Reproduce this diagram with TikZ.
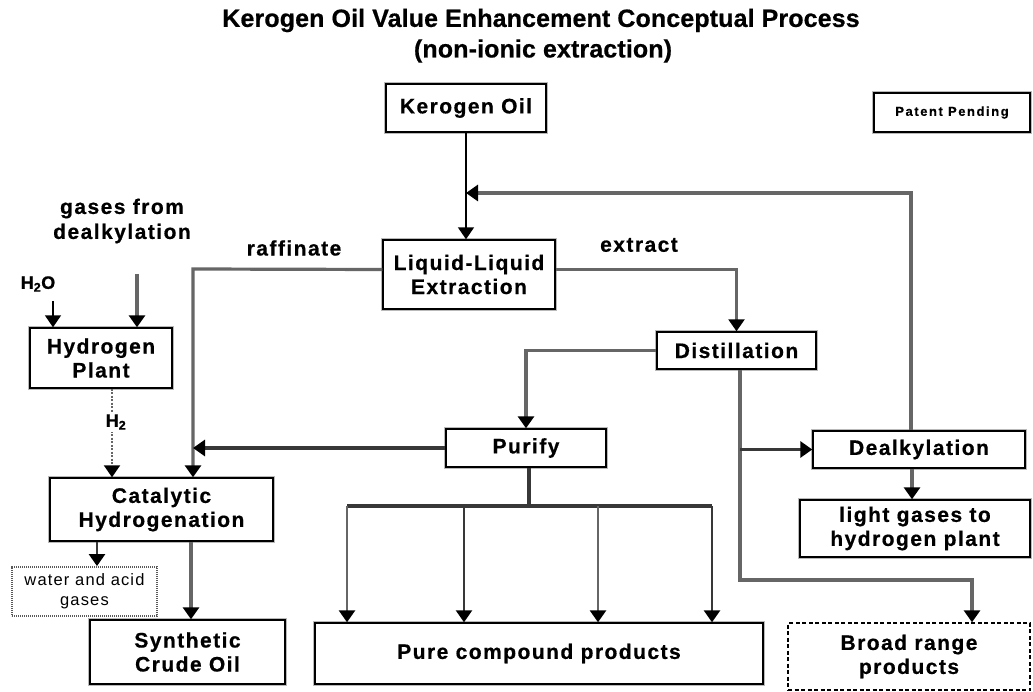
\documentclass[tikz,border=0pt]{standalone}
\usepackage{fontspec}
\setmainfont{Liberation Sans}
\newfontfamily\labfont[LetterSpace=7, BoldFeatures={FakeBold=0.6}]{Liberation Sans}
\newfontfamily\titlefont[LetterSpace=0.5, BoldFeatures={FakeBold=0.6}]{Liberation Sans}
\newfontfamily\smallfont[LetterSpace=12, BoldFeatures={FakeBold=0.5}]{Liberation Sans}
\usetikzlibrary{arrows.meta}
\definecolor{lnA}{gray}{0.22}
\definecolor{lnB}{gray}{0.40}
\begin{document}
\begin{tikzpicture}[x=1pt,y=-1pt,
  boxbase/.style={fill=white, inner sep=0pt, align=center,
    font=\labfont\bfseries\fontsize{21}{24}\selectfont},
  box/.style={boxbase, draw=black, line width=1.4pt,
    preaction={draw=gray!55, line width=4pt}},
  dashbox/.style={boxbase, draw=black, line width=1.4pt, dash pattern=on 4pt off 2.5pt},
  dotbox/.style={boxbase, draw=gray!70!black, line width=1.8pt, dash pattern=on 1.2pt off 0.8pt,
    font=\labfont\fontsize{16.5}{20}\selectfont},
  lab/.style={inner sep=1pt, align=center, font=\labfont\bfseries\fontsize{21}{25}\selectfont},
  tip/.style={-{Triangle[width=16pt,length=12pt,color=black]}},
  conA/.style={draw=lnA, line width=2.4pt},
  conB/.style={draw=lnB, line width=3.2pt},
  conC/.style={draw=black, line width=1.6pt}
]
\path[fill=white] (0,0) rectangle (1033,692);
\useasboundingbox (0,0) rectangle (1033,692);

% title
\node[font=\titlefont\bfseries\fontsize{25}{28}\selectfont] (t1) at (541,20.5) {Kerogen Oil Value Enhancement Conceptual Process};
\node[font=\titlefont\bfseries\fontsize{25}{28}\selectfont] (t2) at (543,51) {(non-ionic extraction)};

% boxes
\node[box, minimum width=160pt, minimum height=48pt] (kero) at (466,108) {Kerogen Oil};
\node[box, minimum width=172pt, minimum height=69pt] (ll) at (469,274.5) {Liquid-Liquid\\Extraction};
\node[box, minimum width=159pt, minimum height=37pt] (dist) at (736.5,350.5) {Distillation};
\node[box, minimum width=160pt, minimum height=38pt] (pur) at (526,448) {Purify};
\node[box, minimum width=212pt, minimum height=37pt] (dealk) at (919,449.5) {Dealkylation};
\node[box, minimum width=230pt, minimum height=57pt] (light) at (915,528.5) {light gases to\\hydrogen plant};
\node[dashbox, minimum width=242pt, minimum height=67pt] (broad) at (909,656.5) {Broad range\\products};
\node[box, minimum width=448pt, minimum height=61pt] (pure) at (539,653.5) {Pure compound products};
\node[box, minimum width=195pt, minimum height=64pt] (syn) at (187.5,652) {Synthetic\\Crude Oil};
\node[dotbox, minimum width=145pt, minimum height=49pt] (wat) at (84.5,591.5) {water and acid\\gases};
\node[box, minimum width=223pt, minimum height=63pt] (cat) at (161.5,509.5) {Catalytic\\Hydrogenation};
\node[box, minimum width=142pt, minimum height=60pt] (hyd) at (101,358) {Hydrogen\\Plant};
\node[box, minimum width=156pt, minimum height=39pt,
  font=\smallfont\bfseries\fontsize{13}{15}\selectfont] (pat) at (952,112.5) {Patent Pending};

% free labels
\node[lab] (raff) at (294,248) {raffinate};
\node[lab] (extr) at (639,245) {extract};
\node[lab] (gas) at (122,221) {gases from\\dealkylation};
\node[lab, font=\labfont\bfseries\fontsize{18}{20}\selectfont] (h2o) at (38,284) {H\textsubscript{2}O};
\coordinate (h2oa) at (53,301);
\coordinate (gasa) at (137,274);
\coordinate (raf) at (193,269);
\coordinate (rcy) at (911,193);
\coordinate (dd) at (740,580);
\coordinate (bus) at (529,506);

% connectors
\draw[conC, tip] (kero.south) -- (kero.south |- ll.north);
\draw[conB, tip] (dealk.north -| rcy) -- (rcy) -- (kero.south |- rcy);
\draw[conB, tip] ([yshift=5pt]ll.west) -- (raf) -- (cat.north -| raf);
\draw[conB, line width=2.4pt, tip] ([yshift=5pt]ll.east) -- ([yshift=5pt]ll.east -| dist.north) -- (dist.north);
\draw[conB, tip] (dist.west) -- (dist.west -| pur.north) -- (pur.north);
\draw[conA, line width=3.2pt, tip] (pur.west) -- (pur.west -| raf);
\draw[conB, tip] (dist.south -| dd) -- (dd) -- (dd -| 972,0) -- (broad.north -| 972,0);
\draw[conA, line width=3.2pt, tip] (dealk.west -| dd) -- (dealk.west);
\draw[conB, tip] (dealk.south -| 912,0) -- (light.north -| 912,0);
\draw[conA, line width=3.2pt] (pur.south -| bus) -- (bus);
\draw[conA, line width=3.2pt] (bus -| 347,0) -- (bus -| 712,0);
\draw[conB, line width=2.8pt, tip] (bus -| 347,0) -- (pure.north -| 347,0);
\draw[conA, tip] (bus -| 464,0) -- (pure.north -| 464,0);
\draw[conB, line width=2.8pt, tip] (bus -| 598,0) -- (pure.north -| 598,0);
\draw[conA, line width=2.8pt, tip] (bus -| 712,0) -- (pure.north -| 712,0);
\draw[conA, tip] (cat.south -| 97,0) -- (wat.north -| 97,0);
\draw[conB, tip] (cat.south -| 191,0) -- (syn.north -| 191,0);
\draw[conC, tip] (h2oa) -- (hyd.north -| h2oa);
\draw[conB, tip] (gasa) -- (hyd.north -| gasa);
\draw[conB, line width=2pt, dash pattern=on 2pt off 1.5pt, tip] (hyd.south -| 112,0) -- (cat.north -| 112,0);
\node[lab, fill=white, inner sep=2pt, font=\labfont\bfseries\fontsize{18}{20}\selectfont] (h2) at (116,422) {H\textsubscript{2}};
\end{tikzpicture}
\end{document}
